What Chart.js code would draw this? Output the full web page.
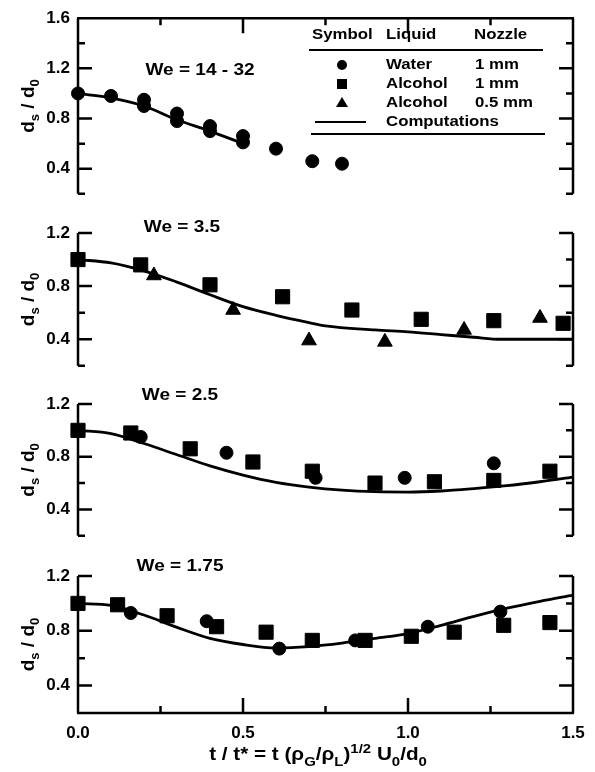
<!DOCTYPE html>
<html>
<head>
<meta charset="utf-8">
<script src="https://cdn.jsdelivr.net/npm/chart.js@4.4.1/dist/chart.umd.min.js"></script>
<style>
  body { margin: 0; background: #fff; }
  #wrap { position: relative; width: 595px; height: 772px; }
  #wrap canvas { position: absolute; left: 0; }
</style>
</head>
<body>
<div id="wrap">
  <canvas id="p1" width="595" height="212" style="top:0px"></canvas>
  <canvas id="p2" width="595" height="172" style="top:212px"></canvas>
  <canvas id="p3" width="595" height="170" style="top:384px"></canvas>
  <canvas id="p4" width="595" height="218" style="top:554px"></canvas>
</div>
<script>
const X_TICKS = [0, 0.5, 1.0, 1.5];
const Y_TICKS_TOP = [0.4, 0.8, 1.2, 1.6];
const Y_TICKS = [0.4, 0.8, 1.2];
const WE_LABELS = ['We = 14 - 32', 'We = 3.5', 'We = 2.5', 'We = 1.75'];
const LEGEND_HEAD = ['Symbol', 'Liquid', 'Nozzle'];
const LIQUIDS = ['Water', 'Alcohol', 'Alcohol'];
const NOZZLES = ['1 mm', '1 mm', '0.5 mm'];
const CALC_NAME = 'Computations';

// We = 14 - 32
const we14Water_t = [0, 0.10, 0.20, 0.20, 0.30, 0.30, 0.40, 0.40, 0.50, 0.50, 0.60, 0.71, 0.80];
const we14Water_d = [1.00, 0.98, 0.95, 0.90, 0.84, 0.78, 0.74, 0.70, 0.66, 0.61, 0.56, 0.46, 0.44];
const we14Calc_t = [0, 0.1, 0.2, 0.3, 0.4, 0.5];
const we14Calc_d = [1.00, 0.965, 0.90, 0.79, 0.70, 0.60];

// We = 3.5
const we35Alc1_t = [0, 0.19, 0.40, 0.62, 0.83, 1.04, 1.26, 1.47];
const we35Alc1_d = [1.00, 0.96, 0.81, 0.72, 0.62, 0.55, 0.54, 0.52];
const we35Alc05_t = [0.23, 0.47, 0.70, 0.93, 1.17, 1.40];
const we35Alc05_d = [0.88, 0.62, 0.39, 0.38, 0.47, 0.56];
const we35Calc_t = [0, 0.1, 0.2, 0.3, 0.4, 0.5, 0.6, 0.7, 0.75, 0.9, 1.0, 1.1, 1.2, 1.28, 1.4, 1.5];
const we35Calc_d = [1.00, 0.975, 0.915, 0.83, 0.735, 0.645, 0.58, 0.525, 0.50, 0.47, 0.455, 0.435, 0.415, 0.40, 0.40, 0.40];

// We = 2.5
const we25Water_t = [0.19, 0.45, 0.72, 0.99, 1.26];
const we25Water_d = [0.95, 0.83, 0.64, 0.64, 0.75];
const we25Alc1_t = [0, 0.16, 0.34, 0.53, 0.71, 0.90, 1.08, 1.26, 1.43];
const we25Alc1_d = [1.00, 0.98, 0.86, 0.76, 0.69, 0.60, 0.61, 0.62, 0.69];
const we25Calc_t = [0, 0.1, 0.2, 0.3, 0.4, 0.5, 0.6, 0.7, 0.8, 0.9, 1.0, 1.1, 1.2, 1.3, 1.4, 1.5];
const we25Calc_d = [1.00, 0.975, 0.90, 0.815, 0.73, 0.66, 0.605, 0.57, 0.547, 0.535, 0.532, 0.54, 0.558, 0.58, 0.61, 0.645];

// We = 1.75
const we175Water_t = [0.16, 0.39, 0.61, 0.84, 1.06, 1.28];
const we175Water_d = [0.93, 0.87, 0.67, 0.73, 0.83, 0.94];
const we175Alc1_t = [0, 0.12, 0.27, 0.42, 0.57, 0.71, 0.87, 1.01, 1.14, 1.29, 1.43];
const we175Alc1_d = [1.00, 0.99, 0.91, 0.83, 0.79, 0.73, 0.73, 0.76, 0.79, 0.84, 0.86];
const we175Calc_t = [0, 0.1, 0.2, 0.3, 0.4, 0.5, 0.6, 0.7, 0.8, 0.9, 1.0, 1.1, 1.2, 1.3, 1.4, 1.5];
const we175Calc_d = [1.00, 0.985, 0.915, 0.825, 0.745, 0.70, 0.675, 0.685, 0.71, 0.745, 0.78, 0.84, 0.905, 0.965, 1.015, 1.06];

const FONT = "'Liberation Sans', Arial, sans-serif";
const SX = 1.12; // the figure's lettering is a little wider than Arial
Chart.defaults.font.family = FONT;
Chart.defaults.font.weight = 'bold';
Chart.defaults.font.size = 17;
Chart.defaults.color = '#000';

const pts = (t, d) => t.map((x, i) => ({ x, y: d[i] }));

// plain text, stretched horizontally around its anchor
function wideText(ctx, str, x, y, size, align) {
  ctx.save();
  ctx.font = `bold ${size}px ${FONT}`;
  ctx.fillStyle = '#000';
  ctx.textAlign = align;
  ctx.textBaseline = 'middle';
  ctx.translate(x, y);
  ctx.scale(SX, 1);
  ctx.fillText(str, 0, 0);
  ctx.restore();
}

// text with sub/superscripts: runs of [text, 'n'|'sub'|'sup']
function richText(ctx, runs, x, y, size, rotate, sx) {
  const small = Math.round(size * 0.7);
  const font = s => `bold ${s}px ${FONT}`;
  let w = 0;
  runs.forEach(r => { ctx.font = font(r[1] === 'n' ? size : small); w += ctx.measureText(r[0]).width; });
  ctx.save();
  ctx.translate(x, y);
  if (rotate) ctx.rotate(-Math.PI / 2);
  ctx.scale(sx, 1);
  ctx.fillStyle = '#000';
  ctx.textBaseline = 'alphabetic';
  ctx.textAlign = 'left';
  let cx = -w / 2;
  runs.forEach(r => {
    const s = r[1] === 'n' ? size : small;
    const dy = r[1] === 'sub' ? size * 0.28 : r[1] === 'sup' ? -size * 0.42 : 0;
    ctx.font = font(s);
    ctx.fillText(r[0], cx, size * 0.36 + dy);
    cx += ctx.measureText(r[0]).width;
  });
  ctx.restore();
}

function marker(ctx, kind, x, y) {
  ctx.beginPath();
  if (kind === 'circle') ctx.arc(x, y, 5, 0, Math.PI * 2);
  else if (kind === 'rect') ctx.rect(x - 5, y - 5, 10, 10);
  else { ctx.moveTo(x, y - 6); ctx.lineTo(x + 6, y + 4); ctx.lineTo(x - 6, y + 4); ctx.closePath(); }
  ctx.fill();
}

const frame = {
  id: 'frame',
  afterDatasetsDraw(chart, args, o) {
    const { ctx, chartArea: a, scales: { x, y } } = chart;
    ctx.save();
    ctx.strokeStyle = '#000';
    ctx.lineWidth = 2.5;
    ctx.beginPath();
    ctx.moveTo(a.left, a.top); ctx.lineTo(a.left, a.bottom);
    ctx.moveTo(a.right, a.top); ctx.lineTo(a.right, a.bottom);
    if (o.top) { ctx.moveTo(a.left - 1, a.top); ctx.lineTo(a.right + 1, a.top); }
    if (o.bottom) { ctx.moveTo(a.left - 1, a.bottom); ctx.lineTo(a.right + 1, a.bottom); }
    const yMajor = y.ticks.map(t => t.value);
    const n = Math.round((y.max - y.min) / 0.2);
    for (let i = 0; i <= n; i++) {
      const v = y.min + i * 0.2;
      const len = yMajor.some(m => Math.abs(m - v) < 1e-6) ? 14 : 7;
      const py = y.getPixelForValue(v);
      ctx.moveTo(a.left, py); ctx.lineTo(a.left + len, py);
      ctx.moveTo(a.right, py); ctx.lineTo(a.right - len, py);
    }
    for (let i = 1; i < 6; i++) {
      const v = i * 0.25;
      const len = i % 2 === 0 ? 15 : 7;
      const px = x.getPixelForValue(v);
      if (o.top) { ctx.moveTo(px, a.top); ctx.lineTo(px, a.top + len); }
      if (o.bottom) { ctx.moveTo(px, a.bottom); ctx.lineTo(px, a.bottom - len); }
    }
    ctx.stroke();

    wideText(ctx, o.label, o.labelX, a.top + o.labelDy, 17, 'center');

    richText(ctx, [['d', 'n'], ['s', 'sub'], [' / d', 'n'], ['0', 'sub']], 27, (a.top + a.bottom) / 2, 19, true, 1);

    if (o.xTitle) {
      richText(ctx, [['t / t* = t (ρ', 'n'], ['G', 'sub'], ['/ρ', 'n'], ['L', 'sub'], [')', 'n'], ['1/2', 'sup'],
        [' U', 'n'], ['0', 'sub'], ['/d', 'n'], ['0', 'sub']], 318, a.bottom + 41, 18, false, 1.15);
    }

    if (o.legend) {
      wideText(ctx, LEGEND_HEAD[0], 312, 35, 15, 'left');
      wideText(ctx, LEGEND_HEAD[1], 386, 35, 15, 'left');
      wideText(ctx, LEGEND_HEAD[2], 474, 35, 15, 'left');
      ctx.fillStyle = '#000';
      ['circle', 'rect', 'triangle'].forEach((k, i) => {
        const ry = 65 + i * 19;
        marker(ctx, k, 342, ry);
        wideText(ctx, LIQUIDS[i], 386, ry, 15, 'left');
        wideText(ctx, NOZZLES[i], 475, ry, 15, 'left');
      });
      wideText(ctx, CALC_NAME, 386, 122, 15, 'left');
      ctx.lineWidth = 2;
      ctx.beginPath();
      ctx.moveTo(309, 50); ctx.lineTo(543, 50);
      ctx.moveTo(311, 134); ctx.lineTo(545, 134);
      ctx.moveTo(315, 122); ctx.lineTo(366, 122);
      ctx.stroke();
    }
    ctx.restore();
  }
};

function makePanel(id, cfg) {
  const ds = [];
  if (cfg.water) ds.push({ label: 'Water 1 mm', data: pts(cfg.water[0], cfg.water[1]), pointStyle: 'circle', pointRadius: 6.5 });
  if (cfg.alc1) ds.push({ label: 'Alcohol 1 mm', data: pts(cfg.alc1[0], cfg.alc1[1]), pointStyle: 'rect', pointRadius: 10 });
  if (cfg.alc05) ds.push({ label: 'Alcohol 0.5 mm', data: pts(cfg.alc05[0], cfg.alc05[1]), pointStyle: 'triangle', pointRadius: 8.5 });
  ds.forEach(d => Object.assign(d, { showLine: false, backgroundColor: '#000', borderColor: '#000', borderWidth: 1, clip: false }));
  ds.push({
    label: CALC_NAME, data: pts(cfg.calc[0], cfg.calc[1]), showLine: true, pointRadius: 0,
    borderColor: '#000', borderWidth: 2.8, cubicInterpolationMode: 'monotone', clip: 6
  });

  return new Chart(document.getElementById(id), {
    type: 'scatter',
    data: { datasets: ds },
    plugins: [frame],
    options: {
      responsive: false,
      animation: false,
      events: [],
      layout: { padding: { top: cfg.padTop, bottom: cfg.padBottom, right: 22, left: 0 } },
      plugins: {
        legend: { display: false },
        tooltip: { enabled: false },
        frame: {
          label: cfg.label, labelX: cfg.labelX, labelDy: cfg.labelDy,
          top: !!cfg.top, bottom: !!cfg.bottom, legend: !!cfg.legend, xTitle: !!cfg.bottom
        }
      },
      scales: {
        x: {
          type: 'linear', min: 0, max: 1.5, display: !!cfg.bottom,
          afterBuildTicks: s => { s.ticks = X_TICKS.map(v => ({ value: v })); },
          afterFit: s => { if (cfg.bottom) s.height = 59; },
          grid: { display: false, drawTicks: false },
          border: { display: false },
          ticks: { padding: 10, maxRotation: 0, autoSkip: false, callback: v => v.toFixed(1) }
        },
        y: {
          min: 0.2, max: cfg.yMax,
          afterBuildTicks: s => { s.ticks = cfg.yTicks.map(v => ({ value: v })); },
          afterFit: s => { s.width = 78; },
          grid: { display: false, drawTicks: false },
          border: { display: false },
          ticks: { padding: 8, callback: v => v.toFixed(1) }
        }
      }
    }
  });
}

makePanel('p1', { label: WE_LABELS[0], labelX: 200, labelDy: 52, yMax: 1.6, yTicks: Y_TICKS_TOP,
  water: [we14Water_t, we14Water_d], calc: [we14Calc_t, we14Calc_d], padTop: 8, padBottom: 13, top: true, legend: true });
makePanel('p2', { label: WE_LABELS[1], labelX: 182, labelDy: -6, yMax: 1.2, yTicks: Y_TICKS,
  alc1: [we35Alc1_t, we35Alc1_d], alc05: [we35Alc05_t, we35Alc05_d], calc: [we35Calc_t, we35Calc_d], padTop: 21, padBottom: 12 });
makePanel('p3', { label: WE_LABELS[2], labelX: 180, labelDy: -9, yMax: 1.2, yTicks: Y_TICKS,
  water: [we25Water_t, we25Water_d], alc1: [we25Alc1_t, we25Alc1_d], calc: [we25Calc_t, we25Calc_d], padTop: 20, padBottom: 11 });
makePanel('p4', { label: WE_LABELS[3], labelX: 180, labelDy: -10, yMax: 1.2, yTicks: Y_TICKS,
  water: [we175Water_t, we175Water_d], alc1: [we175Alc1_t, we175Alc1_d], calc: [we175Calc_t, we175Calc_d], padTop: 22, padBottom: 0, bottom: true });
</script>
</body>
</html>
